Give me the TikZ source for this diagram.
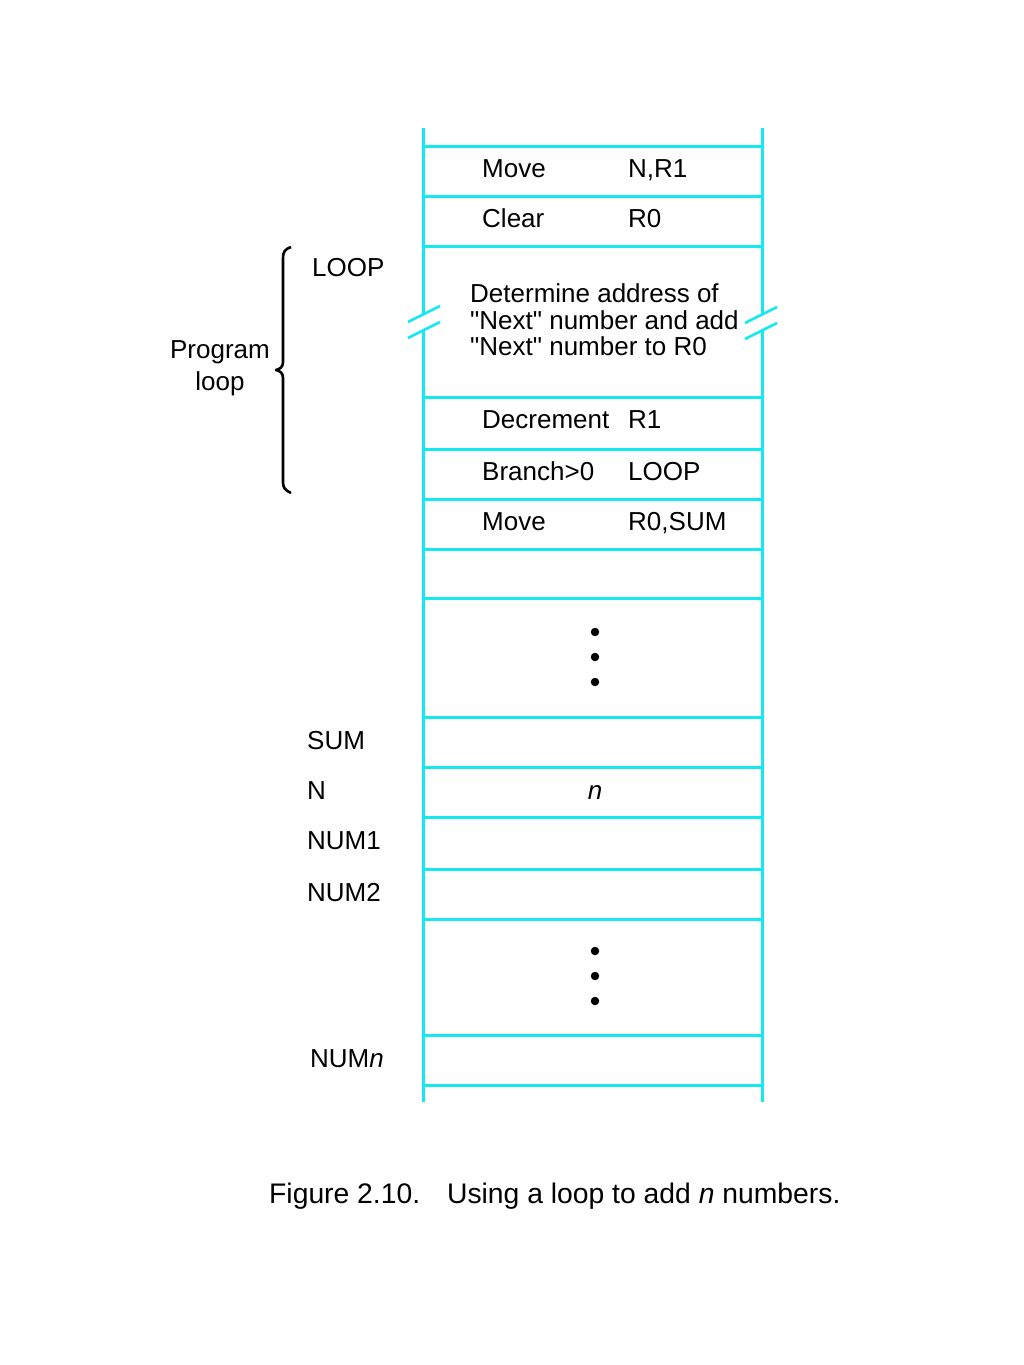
\documentclass[tikz,border=0pt]{standalone}
\usepackage{fontspec}
\setmainfont{Liberation Sans}
\newfontfamily\plainqf{Liberation Sans}
\definecolor{mcyan}{RGB}{20,232,240}
\begin{document}
\begin{tikzpicture}[x=1pt,y=-1pt,
  cell/.style={mcyan,line width=3pt},
  txt/.style={anchor=base west,inner sep=0pt,font=\fontsize{26}{26.5}\selectfont},
  ctxt/.style={anchor=base,inner sep=0pt,font=\fontsize{26}{26.5}\selectfont},
  dot/.style={circle,fill=black,inner sep=0pt,minimum size=8.5pt}]
\useasboundingbox (0,0) rectangle (1024,1365);
% vertical walls with break marks
\coordinate (lt) at (423,128); \coordinate (lb) at (423,1102);
\coordinate (rt) at (762,128); \coordinate (rb) at (762,1102);
\draw[cell] (lt) -- (423,314.5);
\draw[cell] (423,329.5) -- (lb);
\draw[cell] (rt) -- (762,314.5);
\draw[cell] (762,329.5) -- (rb);
\draw[mcyan,line width=2.5pt] (408,322) -- (440,306);
\draw[mcyan,line width=2.5pt] (408,338) -- (440,322);
\draw[mcyan,line width=2.5pt] (745,323) -- (777,307);
\draw[mcyan,line width=2.5pt] (745,339) -- (777,323);
% horizontal lines
\foreach \y in {146,196,246,397,449,499,549,598,717,767,817,869,919,1035,1085}
  \draw[cell] (423,\y) -- (762,\y);
% instructions
\node[txt] (m1) at (482,177) {Move};    \node[txt] (m1o) at (628,177) {N,R1};
\node[txt] (c1) at (482,227) {Clear};   \node[txt] (c1o) at (628,227) {R0};
\node[txt] (loopl) at (312,276) {LOOP};
\node[txt,align=left,anchor=north west,font=\plainqf\fontsize{26}{26.5}\selectfont] (det) at (470,283.5)
  {Determine address of\\"Next" number and add\\"Next" number to R0};
\node[txt] (d1) at (482,428) {Decrement}; \node[txt] (d1o) at (628,428) {R1};
\node[txt] (b1) at (482,480) {Branch>0};  \node[txt] (b1o) at (628,480) {LOOP};
\node[txt] (m2) at (482,530) {Move};      \node[txt] (m2o) at (628,530) {R0,SUM};
% dots
\node[dot] (d11) at (595,632) {};
\node[dot] (d12) at (595,657) {};
\node[dot] (d13) at (595,682) {};
\node[dot] (d21) at (595,951) {};
\node[dot] (d22) at (595,976) {};
\node[dot] (d23) at (595,1001) {};
% data labels
\node[txt] (sum) at (307,749) {SUM};
\node[txt] (nl) at (307,799) {N};
\node[ctxt] (nv) at (595,799) {\itshape n};
\node[txt] (num1) at (307,849) {NUM1};
\node[txt] (num2) at (307,901) {NUM2};
\node[txt] (numn) at (310,1067) {NUM\textit{n}};
% brace
\draw[line width=2.6pt,line join=round] (291,247) .. controls (285,249) and (283,252) .. (283,258)
  -- (283,362) .. controls (283,367) and (280,369) .. (276,370)
  .. controls (280,371) and (283,373) .. (283,378)
  -- (283,482) .. controls (283,488) and (285,490) .. (291,493);
\node[ctxt] (prog) at (220,358) {Program};
\node[ctxt] (progl) at (220,390) {loop};
% caption
\node[anchor=base west,inner sep=0pt,font=\fontsize{28.3}{30}\selectfont] (cap) at (269,1203)
  {Figure 2.10.\hspace{0.95em}Using a loop to add \textit{n} numbers.};
\end{tikzpicture}
\end{document}
